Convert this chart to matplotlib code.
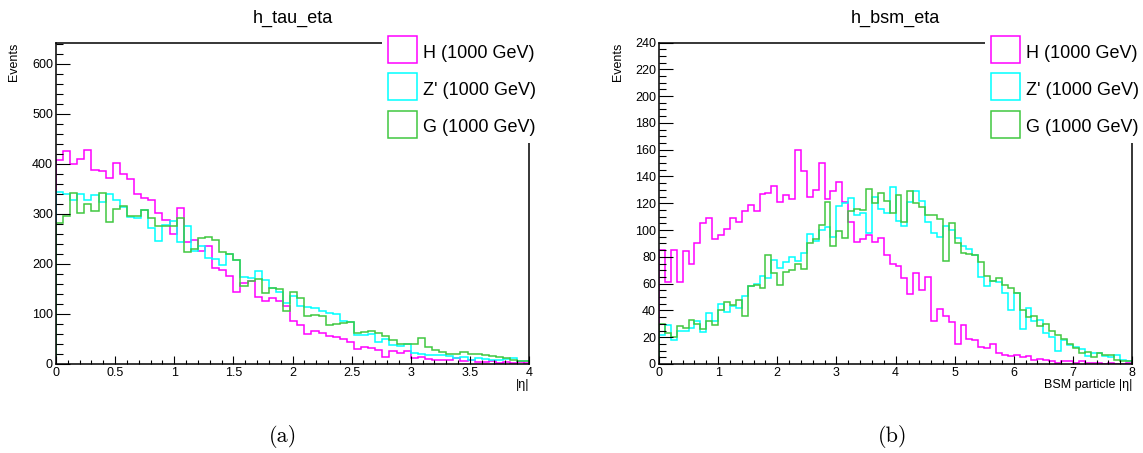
import numpy as np
import matplotlib.pyplot as plt
from matplotlib.patches import Rectangle
from matplotlib.ticker import MultipleLocator, FuncFormatter

plt.rcParams['font.family'] = ['Liberation Sans', 'DejaVu Sans']

W, H = 1143, 453

labels = ["H (1000 GeV)", "Z' (1000 GeV)", "G (1000 GeV)"]
colors = ["#ff00ff", "#00ffff", "#40c840"]

# h_tau_eta : 0.06 wide bins, axis cut at 4
tau_edges = np.arange(68) * 0.06
tau_H = [408, 425, 400, 409, 428, 388, 385, 372, 401, 380, 369, 340, 331, 327, 301, 287,
         259, 311, 243, 247, 225, 236, 191, 188, 175, 143, 161, 165, 133, 125, 131, 126,
         116, 85, 77, 59, 65, 61, 56, 53, 49, 43, 29, 33, 31, 28, 13, 26, 21, 26, 11, 13,
         9, 8, 8, 7, 11, 5, 8, 3, 3, 5, 2, 3, 2, 3, 1]
tau_Z = [344, 339, 328, 339, 328, 338, 323, 339, 327, 313, 293, 291, 308, 271, 246, 277,
         286, 243, 275, 225, 235, 211, 209, 198, 220, 208, 173, 171, 185, 168, 151, 143,
         121, 135, 116, 113, 111, 105, 101, 99, 85, 83, 58, 58, 60, 43, 49, 38, 35, 40,
         21, 20, 18, 18, 17, 15, 11, 13, 8, 11, 9, 8, 8, 9, 11, 6, 5]
tau_G = [281, 296, 341, 301, 320, 305, 341, 283, 309, 316, 295, 295, 308, 291, 275, 276,
         276, 291, 223, 229, 251, 253, 248, 223, 219, 208, 155, 165, 169, 141, 151, 149,
         105, 143, 131, 95, 98, 95, 78, 79, 81, 83, 61, 63, 65, 61, 55, 48, 40, 40, 40,
         51, 33, 27, 24, 20, 20, 24, 19, 19, 18, 15, 13, 11, 8, 6, 5]

# h_bsm_eta : 0.1 wide bins from 0 to 8
bsm_edges = np.arange(81) * 0.1
bsm_H = [85, 61, 85, 61, 84, 75, 90, 105, 109, 93, 96, 101, 109, 106, 114, 119, 114, 127,
         128, 133, 121, 126, 123, 160, 144, 125, 130, 150, 123, 129, 136, 121, 106, 91, 93,
         96, 91, 94, 81, 75, 73, 64, 52, 68, 55, 65, 32, 41, 36, 31, 15, 29, 19, 18, 13, 12,
         15, 8, 7, 6, 7, 5, 6, 3, 4, 3, 2, 1, 2, 2, 1, 2, 1, 1, 1, 0, 1, 0, 0, 1]
bsm_Z = [22, 29, 18, 25, 25, 27, 32, 24, 38, 32, 45, 39, 43, 42, 51, 58, 60, 66, 64, 78, 72,
         76, 80, 77, 83, 97, 92, 100, 102, 95, 118, 120, 124, 111, 113, 98, 125, 116, 113,
         132, 107, 103, 121, 129, 122, 106, 98, 95, 103, 100, 94, 88, 86, 81, 65, 58, 62, 61,
         53, 40, 53, 26, 42, 32, 33, 23, 20, 10, 18, 14, 13, 11, 6, 8, 8, 6, 5, 7, 3, 2]
bsm_G = [30, 23, 20, 28, 27, 33, 30, 26, 32, 29, 40, 46, 44, 48, 36, 58, 59, 57, 81, 68, 59,
         69, 70, 75, 71, 90, 93, 104, 121, 88, 99, 94, 114, 116, 115, 131, 120, 128, 122, 113,
         126, 106, 129, 120, 117, 111, 111, 108, 77, 105, 90, 83, 82, 81, 76, 66, 62, 64, 59,
         57, 53, 40, 35, 36, 28, 30, 25, 22, 19, 15, 12, 8, 9, 5, 8, 7, 7, 3, 2, 2]


def fx(px):
    return px / W


def fy(py):
    return 1 - py / H


fig = plt.figure(figsize=(W / 100, H / 100), dpi=100)


def panel(x0, edges, hists, xmax, xmaj, xmin, ymaj, ymin, title, xlabel):
    ax = fig.add_axes([fx(x0), fy(364), 473 / W, (364 - 42.5) / H])
    for vals, c in zip(hists, colors):
        ax.stairs(vals, edges, color=c, lw=1.1, baseline=0)
    ax.set_xlim(0, xmax)
    ax.set_ylim(0, 1.5 * max(hists[0]))
    ax.xaxis.set_major_locator(MultipleLocator(xmaj))
    ax.xaxis.set_minor_locator(MultipleLocator(xmin))
    ax.yaxis.set_major_locator(MultipleLocator(ymaj))
    ax.yaxis.set_minor_locator(MultipleLocator(ymin))
    ax.xaxis.set_major_formatter(FuncFormatter(lambda v, p: "%g" % v))
    ax.tick_params(which='both', direction='in', top=False, right=False,
                   labelsize=9, width=0.8, pad=2.2, colors='black')
    ax.tick_params(axis='y', which='major', length=10)
    ax.tick_params(axis='y', which='minor', length=5)
    ax.tick_params(axis='x', which='major', length=6)
    ax.tick_params(axis='x', which='minor', length=3)
    for s in ax.spines.values():
        s.set_linewidth(1.1)

    # legend box sits on top of the frame, like ROOT's TLegend
    lx = x0 + 326
    fig.add_artist(Rectangle((fx(lx), fy(143)), 168 / W, (143 - 28) / H,
                             transform=fig.transFigure, facecolor='white',
                             edgecolor='none', zorder=5))
    for i, (lab, c) in enumerate(zip(labels, colors)):
        top = 36 + 37.3 * i
        fig.add_artist(Rectangle((fx(lx + 6), fy(top + 27)), 29 / W, 27 / H,
                                 transform=fig.transFigure, facecolor='none',
                                 edgecolor=c, lw=1.1, zorder=6))
        fig.text(fx(lx + 41), fy(top + 21.7), lab, fontsize=13, ha='left',
                 va='baseline', zorder=7)

    fig.text(fx(x0 + 236.5), fy(22.7), title, fontsize=13, ha='center', va='baseline')
    fig.text(fx(x0 + 473), fy(385), xlabel, fontsize=9, ha='right', va='center')
    fig.text(fx(x0 - 41.5), fy(43), "Events", fontsize=9, rotation=90,
             ha='center', va='top')
    return ax


panel(56, tau_edges, [tau_H, tau_Z, tau_G], 4, 0.5, 0.1, 100, 20,
      "h_tau_eta", "|η|")
panel(659, bsm_edges, [bsm_H, bsm_Z, bsm_G], 8, 1, 0.2, 20, 5,
      "h_bsm_eta", "BSM particle |η|")

fig.text(fx(283), fy(437), "(a)", family='cmr10', fontsize=16, ha='center', va='center')
fig.text(fx(893), fy(437), "(b)", family='cmr10', fontsize=16, ha='center', va='center')

fig.savefig("out.png", dpi=100, facecolor='white')
